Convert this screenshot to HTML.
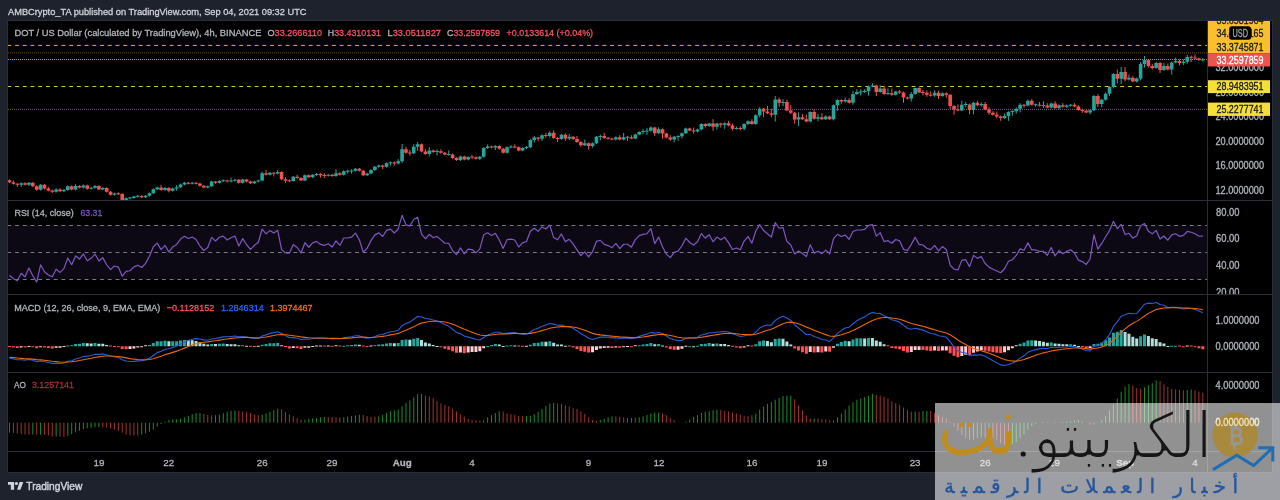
<!DOCTYPE html>
<html><head><meta charset="utf-8"><title>DOT / US Dollar chart</title>
<style>
html,body{margin:0;padding:0}
body{width:1280px;height:500px;overflow:hidden;background:#1e222d;position:relative;font-family:'Liberation Sans', 'DejaVu Sans', sans-serif}
svg text{font-family:'Liberation Sans', 'DejaVu Sans', sans-serif}
</style></head><body>

<svg width="1280" height="500" viewBox="0 0 1280 500" style="position:absolute;left:0;top:0;filter:blur(0.35px)">
<defs><clipPath id="cm"><rect x="8" y="21" width="1199" height="179"/></clipPath><clipPath id="cr"><rect x="8" y="201" width="1199" height="93"/></clipPath><clipPath id="cd"><rect x="8" y="295" width="1199" height="77"/></clipPath><clipPath id="ca"><rect x="8" y="373" width="1199" height="78"/></clipPath><clipPath id="cp"><rect x="1208" y="21" width="64" height="179"/></clipPath><clipPath id="cpr"><rect x="1208" y="201" width="64" height="93"/></clipPath></defs>
<text x="8" y="15.2" font-size="9.8" fill="#d1d4dc" stroke="#d1d4dc" stroke-width="0.3" textLength="298.5" lengthAdjust="spacingAndGlyphs">AMBCrypto_TA published on TradingView.com, Sep 04, 2021 09:32 UTC</text>
<rect x="7.5" y="20.5" width="1265" height="452" fill="#000" stroke="#2a2e39" stroke-width="1"/>
<g clip-path="url(#cm)">
<path d="M8 45.4H1207" stroke="#eab72d" stroke-width="1" stroke-dasharray="3.864 3.864" stroke-dashoffset="0.63"/>
<path d="M8 52.9H1207" stroke="#f9c02d" stroke-opacity="0.45" stroke-width="1" stroke-dasharray="1 1"/>
<path d="M8 59.5H1207" stroke="#f08a3a" stroke-opacity="0.85" stroke-width="1" stroke-dasharray="1 1"/>
<path d="M8 86.5H1207" stroke="#dcc83a" stroke-width="1" stroke-dasharray="3.864 3.864" stroke-dashoffset="0.63"/>
<path d="M8 109.4H1207" stroke="#e8d53a" stroke-opacity="0.5" stroke-width="1" stroke-dasharray="1 1"/>
<path d="M21.16 182.4V186.8M28.93 182V186M40.6 184V190.6M56.14 188.2V192.6M63.92 189V192M67.8 185.4V190.8M75.58 184.2V190.4M83.35 184.6V188.4M91.13 187V189.6M95.01 185.2V188.6M102.79 187.2V190.2M114.45 192.6V195.6M126.11 197.4V200.8M130 196.8V199.4M133.88 195.8V198.8M137.77 195V197.6M145.54 195V198M149.43 192.4V196.6M153.32 188.4V194M157.21 186.6V190M164.98 187.2V190.8M172.75 187.6V191.6M176.64 185.2V190.8M180.53 183.6V188M184.41 182V185.2M192.19 181.9V184.5M207.74 185.4V188.2M211.62 180.8V187M219.4 180.2V183.6M223.28 179.4V182M231.06 177.6V182.4M234.94 178.9V181.5M242.72 178.8V183.6M254.38 180.8V184M258.27 179.6V182.4M262.15 171.5V181.2M269.93 172V175.6M277.7 170V174.4M293.25 176V181.7M304.91 174.4V181.2M312.69 174V178M316.57 173.1V175.7M328.23 173.9V176.5M336.01 169.2V176.8M343.78 170.4V175.6M347.67 169.9V173.6M351.56 169.2V173.6M355.44 168V171.6M367.1 172.8V176M370.99 169.2V174.4M374.88 166V170.8M378.76 164.8V167.6M386.54 162.4V167.6M390.42 161.5V165.6M398.2 159.2V164.4M402.09 144V162.8M413.75 144.2V154M417.63 142V150.8M429.29 147.2V156.4M437.07 149.2V155.6M448.73 150.4V155.7M460.39 155.6V161.2M468.16 156.2V160.4M479.83 156V160M483.71 147.2V157.6M487.6 144.4V148.8M495.37 145.2V150M507.03 146.4V153.6M510.92 145.2V148.3M522.58 147.2V151.2M526.47 146V148.9M530.36 139.2V148M534.24 136V142.4M542.02 134.4V140.8M549.79 131.2V137.6M561.45 134V139.8M569.23 134V140M584.77 139.6V146M592.55 142.4V147.6M596.44 136V144M600.32 134.8V140.4M615.87 136.4V140.4M623.64 132.8V140.4M627.53 135.9V140.8M635.31 133.6V139.2M639.19 131.2V135.2M643.08 128.8V134.4M646.97 128V134.8M650.85 126.4V131.6M658.63 127.2V134M674.18 136V142.4M678.06 135.2V140.8M681.95 132.4V138.4M685.84 127.6V134M697.5 128.8V132.4M701.38 123.2V130.4M709.16 122.8V126.8M716.93 122.8V129.6M724.71 122.4V128.8M736.37 126.4V129.6M744.14 123.2V130.4M748.03 120.4V124.8M755.8 114.4V124.8M759.69 107.2V117.2M775.24 96V121.6M783.01 99.2V106M798.56 112.4V126M810.22 111.2V122.4M818 114V121.2M825.77 115.2V120M833.54 104.4V120.4M837.43 99.2V110.8M845.2 97.6V102.8M852.98 91.2V104.8M856.87 89.2V94.8M860.75 89.2V95.6M864.64 89.2V92.9M868.53 85.6V95.6M872.41 83.2V87.3M880.19 85.2V92.8M887.96 88.4V94.8M895.74 90.8V95.6M911.28 92V101.6M915.17 87.6V94.8M934.61 90.4V96.8M942.38 92.4V96.8M961.81 100.8V111.2M965.7 102V106.8M973.48 102V114.4M981.25 102.4V106.8M1004.57 113.6V118.8M1008.46 111.2V120.8M1012.35 110.3V115.6M1016.23 107.6V113.6M1020.12 103.2V112.4M1027.89 99.6V106.4M1035.67 103.5V106.8M1043.44 101.2V108M1051.22 102.8V108.4M1058.99 104.4V109.6M1066.76 104.4V108M1070.65 103.9V106.5M1090.09 109.4V114.4M1093.97 95.1V111M1101.75 98.9V107.4M1105.63 92.5V100.5M1109.52 86.2V96M1113.41 73.1V88.5M1121.18 67V84M1128.96 74.5V80.5M1136.73 77.5V82.5M1140.62 62V80.5M1144.5 56V67.5M1156.16 62V68.8M1163.94 63V70.8M1171.71 61.7V74.5M1175.6 57.5V63.3M1183.37 59.5V65M1187.26 55V63.5M1202.81 58V61.5" stroke="#26a69a" stroke-width="1" fill="none"/>
<path d="M19.36 183.2h3.6V184.8h-3.6ZM27.13 182.8h3.6V184.8h-3.6ZM38.8 184.8h3.6V189.8h-3.6ZM54.34 189.4h3.6V191.8h-3.6ZM62.12 190h3.6V191.2h-3.6ZM66 186.2h3.6V190h-3.6ZM73.78 186h3.6V189.6h-3.6ZM81.55 185.4h3.6V187.6h-3.6ZM89.33 187.8h3.6V188.8h-3.6ZM93.21 186h3.6V187.8h-3.6ZM100.99 188h3.6V189.4h-3.6ZM112.65 193.4h3.6V194.8h-3.6ZM124.31 198.2h3.6V200h-3.6ZM128.2 197.6h3.6V198.6h-3.6ZM132.08 196.6h3.6V198h-3.6ZM135.97 195.8h3.6V196.8h-3.6ZM143.74 195.8h3.6V197.2h-3.6ZM147.63 193.2h3.6V195.8h-3.6ZM151.52 189.2h3.6V193.2h-3.6ZM155.41 187.4h3.6V189.2h-3.6ZM163.18 188h3.6V190h-3.6ZM170.95 188.4h3.6V190.8h-3.6ZM174.84 187.2h3.6V188.4h-3.6ZM178.73 184.4h3.6V187.2h-3.6ZM182.61 182.8h3.6V184.4h-3.6ZM190.39 182.7h3.6V183.7h-3.6ZM205.94 186.2h3.6V187.4h-3.6ZM209.82 181.6h3.6V186.2h-3.6ZM217.6 181h3.6V182.8h-3.6ZM221.48 180.2h3.6V181.2h-3.6ZM229.26 180.6h3.6V181.6h-3.6ZM233.14 179.7h3.6V180.7h-3.6ZM240.92 179.6h3.6V182.8h-3.6ZM252.58 181.6h3.6V183.2h-3.6ZM256.47 180.4h3.6V181.6h-3.6ZM260.35 173.2h3.6V180.4h-3.6ZM268.13 172.8h3.6V174.8h-3.6ZM275.9 172h3.6V173.6h-3.6ZM291.45 176.8h3.6V180.9h-3.6ZM303.11 175.2h3.6V180.4h-3.6ZM310.88 174.8h3.6V177.2h-3.6ZM314.77 173.9h3.6V174.9h-3.6ZM326.43 174.7h3.6V175.7h-3.6ZM334.21 173.2h3.6V176h-3.6ZM341.98 171.2h3.6V174.8h-3.6ZM345.87 170.7h3.6V171.7h-3.6ZM349.75 170.5h3.6V171.5h-3.6ZM353.64 168.8h3.6V170.8h-3.6ZM365.3 173.6h3.6V175.2h-3.6ZM369.19 170h3.6V173.6h-3.6ZM373.08 166.8h3.6V170h-3.6ZM376.96 165.6h3.6V166.8h-3.6ZM384.74 163.2h3.6V166.8h-3.6ZM388.62 162.3h3.6V163.3h-3.6ZM396.4 161.2h3.6V163.6h-3.6ZM400.29 149.2h3.6V161.2h-3.6ZM411.95 146.8h3.6V153.2h-3.6ZM415.83 144.2h3.6V146.8h-3.6ZM427.49 150.4h3.6V154h-3.6ZM435.27 151.1h3.6V152.1h-3.6ZM446.93 153.9h3.6V154.9h-3.6ZM458.59 156.4h3.6V160h-3.6ZM466.36 157h3.6V159.6h-3.6ZM478.03 156.8h3.6V158.8h-3.6ZM481.91 148h3.6V156.8h-3.6ZM485.8 146.4h3.6V148h-3.6ZM493.57 146h3.6V147.6h-3.6ZM505.23 147.2h3.6V152.8h-3.6ZM509.12 146.5h3.6V147.5h-3.6ZM520.78 148h3.6V150.4h-3.6ZM524.67 147.1h3.6V148.1h-3.6ZM528.56 140h3.6V147.2h-3.6ZM532.44 137.6h3.6V140h-3.6ZM540.22 135.2h3.6V138.8h-3.6ZM547.99 132.8h3.6V136h-3.6ZM559.65 134.8h3.6V139h-3.6ZM567.43 136.8h3.6V138.4h-3.6ZM582.98 143.2h3.6V145.2h-3.6ZM590.75 143.2h3.6V146h-3.6ZM594.64 136.8h3.6V143.2h-3.6ZM598.52 135.9h3.6V136.9h-3.6ZM614.07 137.2h3.6V139.6h-3.6ZM621.85 137.2h3.6V139.6h-3.6ZM625.73 136.7h3.6V137.7h-3.6ZM633.51 134.4h3.6V138.4h-3.6ZM637.39 132h3.6V134.4h-3.6ZM641.28 131.1h3.6V132.1h-3.6ZM645.17 130.5h3.6V131.5h-3.6ZM649.05 127.6h3.6V130.8h-3.6ZM656.83 129.2h3.6V133.2h-3.6ZM672.38 136.8h3.6V139.6h-3.6ZM676.26 136h3.6V137h-3.6ZM680.15 133.2h3.6V136.2h-3.6ZM684.04 128.4h3.6V133.2h-3.6ZM695.7 129.6h3.6V131.6h-3.6ZM699.59 124h3.6V129.6h-3.6ZM707.36 123.6h3.6V126h-3.6ZM715.13 123.6h3.6V126.8h-3.6ZM722.91 123.2h3.6V124.8h-3.6ZM734.57 127.9h3.6V128.9h-3.6ZM742.34 124h3.6V128.8h-3.6ZM746.23 121.2h3.6V124h-3.6ZM754 115.2h3.6V124h-3.6ZM757.89 108.8h3.6V115.2h-3.6ZM773.44 99.6h3.6V114.8h-3.6ZM781.21 101.9h3.6V102.9h-3.6ZM796.76 117.2h3.6V119.6h-3.6ZM808.42 112h3.6V121.6h-3.6ZM816.2 117.2h3.6V118.8h-3.6ZM823.97 116.4h3.6V119.2h-3.6ZM831.74 105.2h3.6V119.2h-3.6ZM835.63 100h3.6V105.2h-3.6ZM843.4 100h3.6V101.6h-3.6ZM851.18 94h3.6V102.8h-3.6ZM855.07 92h3.6V94h-3.6ZM858.95 91.5h3.6V92.5h-3.6ZM862.84 91.1h3.6V92.1h-3.6ZM866.73 86.4h3.6V91.2h-3.6ZM870.61 85.5h3.6V86.5h-3.6ZM878.39 88.4h3.6V92h-3.6ZM886.16 93.1h3.6V94.1h-3.6ZM893.94 91.6h3.6V94.8h-3.6ZM909.48 94h3.6V98.4h-3.6ZM913.37 88h3.6V94h-3.6ZM932.81 92.8h3.6V95.6h-3.6ZM940.58 93.2h3.6V96h-3.6ZM960.01 104.8h3.6V110.4h-3.6ZM963.9 104.1h3.6V105.1h-3.6ZM971.68 102.8h3.6V110h-3.6ZM979.45 104h3.6V105.2h-3.6ZM1002.77 116h3.6V118h-3.6ZM1006.66 112h3.6V116h-3.6ZM1010.55 111.1h3.6V112.1h-3.6ZM1014.43 108.8h3.6V111.2h-3.6ZM1018.32 104.8h3.6V108.8h-3.6ZM1026.09 100.8h3.6V105.6h-3.6ZM1033.87 104.3h3.6V105.3h-3.6ZM1041.64 105.1h3.6V106.1h-3.6ZM1049.42 103.6h3.6V107.6h-3.6ZM1057.19 105.2h3.6V108h-3.6ZM1064.96 105.6h3.6V106.8h-3.6ZM1068.85 104.7h3.6V105.7h-3.6ZM1088.29 110.2h3.6V112.4h-3.6ZM1092.17 95.9h3.6V110.2h-3.6ZM1099.95 99.7h3.6V104.1h-3.6ZM1103.83 93.7h3.6V99.7h-3.6ZM1107.72 87h3.6V93.7h-3.6ZM1111.61 73.9h3.6V87h-3.6ZM1119.38 72h3.6V78.8h-3.6ZM1127.16 77.8h3.6V79.5h-3.6ZM1134.93 78.5h3.6V81.5h-3.6ZM1138.82 64h3.6V78.5h-3.6ZM1142.7 60h3.6V64h-3.6ZM1154.36 63h3.6V68h-3.6ZM1162.14 66h3.6V70h-3.6ZM1169.91 62.5h3.6V69.5h-3.6ZM1173.8 61h3.6V62.5h-3.6ZM1181.57 61.8h3.6V63h-3.6ZM1185.46 57h3.6V61.8h-3.6ZM1201.01 59.4h3.6V60.4h-3.6Z" fill="#26a69a"/>
<path d="M9.5 179.4V183M13.39 180.6V184.6M17.27 183V186.8M25.05 182.2V185.6M32.82 182V187M36.71 185.4V190.6M44.48 184V189.4M48.37 187V191.4M52.26 189.8V193M60.03 188.2V192M71.69 185.4V190.4M79.47 185.2V188.4M87.24 184.6V189.6M98.9 185.2V190.2M106.67 187.2V192.6M110.56 191V195.6M118.34 192.4V195M122.22 193.2V200.8M141.66 195.2V198M161.09 184.8V190.8M168.87 187.2V192.4M188.3 181.9V184.5M196.07 181.9V184.5M199.96 182.8V186.6M203.85 185V188.2M215.51 181V183.8M227.17 179.6V182.4M238.83 179V183.6M246.61 178.8V182.4M250.49 180.8V184M266.04 170V175.6M273.81 171.9V176.4M281.59 171.2V180M285.48 177.2V182.8M289.36 179.55V182.15M297.14 174.8V178.8M301.02 177.2V181.2M308.8 174.4V178M320.46 173.2V177.6M324.35 173.2V178M332.12 174V176.8M339.89 172V175.6M359.33 168V171.6M363.22 170V176M382.65 164.8V169.2M394.31 161.2V165.6M405.97 146.8V153.6M409.86 150V155.6M421.52 143.4V152.4M425.41 149.2V154.8M433.18 149.6V152.8M440.96 149.2V153.6M444.84 152V155.2M452.62 153.6V158.8M456.5 157.2V160.8M464.28 155.6V160.4M472.05 155.2V159.2M475.94 156.4V159.6M491.49 145.6V148.4M499.26 145.2V149.6M503.15 148V153.6M514.81 144.4V148.3M518.7 146.4V151.2M538.13 136.8V141.2M545.9 132.8V137.6M553.68 130.4V138.8M557.57 137.2V142M565.34 133.2V140.8M573.11 136V139.8M577 136V142.8M580.89 141.2V146.8M588.66 142.4V149.6M604.21 132.8V138.8M608.1 137V139.6M611.98 137.8V140.4M619.76 135.2V140.4M631.42 135.2V139.2M654.74 126.8V136M662.51 128.4V138.8M666.4 132.8V138.4M670.29 135.2V140.8M689.72 127.6V131.2M693.61 127.6V133.6M705.27 123.2V127.6M713.05 119.2V130.8M720.82 122.8V127.6M728.59 120.8V126.4M732.48 123.6V130.4M740.25 126.4V130.4M751.92 119.2V124.8M763.58 108V117.2M767.46 106V114M771.35 108.8V117.2M779.12 97.6V106.8M786.9 99.6V111.2M790.79 105.2V114M794.67 112V123.6M802.45 114V120M806.33 114.4V122.4M814.11 109.6V119.6M821.88 113.2V120M829.66 115.6V120M841.32 99.2V103.6M849.09 98V103.6M876.3 84.8V96M884.07 86V94.8M891.85 88.4V95.6M899.62 90V94M903.51 91.6V102.8M907.4 96.7V99.3M919.06 87.2V93.2M922.94 90V95.6M926.83 90.4V96.8M930.72 91.2V96.5M938.49 90.8V98.8M946.27 92.4V97.6M950.15 94V108.8M954.04 105.2V114.8M957.93 104.4V111.3M969.59 103.6V114.4M977.36 100.8V106M985.14 102V110.4M989.02 107.2V114.8M992.91 111.2V115.6M996.8 111.6V118.4M1000.68 115.6V120.8M1024.01 104V107.6M1031.78 99.2V105.6M1039.55 102V106.5M1047.33 103.2V108.4M1055.1 101.2V108.8M1062.88 103.2V107.6M1074.54 103.2V107.2M1078.42 105.2V110.8M1082.31 108.8V112.8M1086.2 110V113.2M1097.86 94.2V106.9M1117.29 69.5V83.5M1125.07 67V81.5M1132.84 76V82.3M1148.39 59.2V67.5M1152.28 64V69.5M1160.05 62.2V73M1167.83 63.5V70.3M1179.49 59.5V65.5M1191.15 55.5V62M1195.03 54.5V59.3M1198.92 57.7V60.8" stroke="#ef5350" stroke-width="1" fill="none"/>
<path d="M7.7 180.2h3.6V182.2h-3.6ZM11.59 182.2h3.6V183.8h-3.6ZM15.47 183.8h3.6V184.8h-3.6ZM23.25 183.2h3.6V184.8h-3.6ZM31.02 182.8h3.6V186.2h-3.6ZM34.91 186.2h3.6V189.8h-3.6ZM42.68 184.8h3.6V188.6h-3.6ZM46.57 188.6h3.6V190.6h-3.6ZM50.46 190.6h3.6V191.8h-3.6ZM58.23 189.4h3.6V191.2h-3.6ZM69.89 186.2h3.6V189.6h-3.6ZM77.67 186h3.6V187.6h-3.6ZM85.44 185.4h3.6V188.8h-3.6ZM97.1 186h3.6V189.4h-3.6ZM104.87 188h3.6V191.8h-3.6ZM108.76 191.8h3.6V194.8h-3.6ZM116.54 193.2h3.6V194.2h-3.6ZM120.42 194h3.6V200h-3.6ZM139.86 196h3.6V197.2h-3.6ZM159.29 187.4h3.6V190h-3.6ZM167.07 188h3.6V190.8h-3.6ZM186.5 182.7h3.6V183.7h-3.6ZM194.27 182.7h3.6V183.7h-3.6ZM198.16 183.6h3.6V185.8h-3.6ZM202.05 185.8h3.6V187.4h-3.6ZM213.71 181.6h3.6V182.8h-3.6ZM225.37 180.4h3.6V181.6h-3.6ZM237.03 179.8h3.6V182.8h-3.6ZM244.81 179.6h3.6V181.6h-3.6ZM248.69 181.6h3.6V183.2h-3.6ZM264.24 173.2h3.6V174.8h-3.6ZM272.01 172.7h3.6V173.7h-3.6ZM279.79 172h3.6V179.2h-3.6ZM283.68 179.2h3.6V180.8h-3.6ZM287.56 180.35h3.6V181.35h-3.6ZM295.34 176.8h3.6V178h-3.6ZM299.22 178h3.6V180.4h-3.6ZM307 175.2h3.6V177.2h-3.6ZM318.66 174h3.6V175.2h-3.6ZM322.55 174.9h3.6V175.9h-3.6ZM330.32 174.8h3.6V176h-3.6ZM338.09 173.2h3.6V174.8h-3.6ZM357.53 168.8h3.6V170.8h-3.6ZM361.42 170.8h3.6V175.2h-3.6ZM380.85 165.6h3.6V166.8h-3.6ZM392.51 162.4h3.6V163.6h-3.6ZM404.17 149.2h3.6V152.8h-3.6ZM408.06 152.5h3.6V153.5h-3.6ZM419.72 144.2h3.6V151.6h-3.6ZM423.61 151.6h3.6V154h-3.6ZM431.38 150.4h3.6V152h-3.6ZM439.16 151.2h3.6V152.8h-3.6ZM443.04 152.8h3.6V154.4h-3.6ZM450.82 154.4h3.6V158h-3.6ZM454.7 158h3.6V160h-3.6ZM462.48 156.4h3.6V159.6h-3.6ZM470.25 156.6h3.6V157.6h-3.6ZM474.14 157.2h3.6V158.8h-3.6ZM489.69 146.4h3.6V147.6h-3.6ZM497.46 146h3.6V148.8h-3.6ZM501.35 148.8h3.6V152.8h-3.6ZM513.01 146.5h3.6V147.5h-3.6ZM516.9 147.2h3.6V150.4h-3.6ZM536.33 137.6h3.6V138.8h-3.6ZM544.11 135.1h3.6V136.1h-3.6ZM551.88 132.8h3.6V138h-3.6ZM555.77 138h3.6V139h-3.6ZM563.54 134.8h3.6V138.4h-3.6ZM571.31 136.8h3.6V139h-3.6ZM575.2 139h3.6V142h-3.6ZM579.09 142h3.6V145.2h-3.6ZM586.86 143.2h3.6V146h-3.6ZM602.41 136h3.6V138h-3.6ZM606.3 137.8h3.6V138.8h-3.6ZM610.18 138.6h3.6V139.6h-3.6ZM617.96 137.2h3.6V139.6h-3.6ZM629.62 137.2h3.6V138.4h-3.6ZM652.94 127.6h3.6V133.2h-3.6ZM660.72 129.2h3.6V133.6h-3.6ZM664.6 133.6h3.6V137.6h-3.6ZM668.49 137.6h3.6V139.6h-3.6ZM687.92 128.4h3.6V130.4h-3.6ZM691.81 130.4h3.6V131.6h-3.6ZM703.47 124h3.6V126h-3.6ZM711.25 123.6h3.6V126.8h-3.6ZM719.02 123.6h3.6V124.8h-3.6ZM726.79 123.2h3.6V125.6h-3.6ZM730.68 125.6h3.6V128.8h-3.6ZM738.46 127.9h3.6V128.9h-3.6ZM750.12 121.2h3.6V124h-3.6ZM761.78 108.8h3.6V111.6h-3.6ZM765.66 111.6h3.6V113.2h-3.6ZM769.55 113.2h3.6V114.8h-3.6ZM777.33 99.6h3.6V102.8h-3.6ZM785.1 102h3.6V110.4h-3.6ZM788.99 110.4h3.6V112.8h-3.6ZM792.87 112.8h3.6V119.6h-3.6ZM800.65 117.2h3.6V119.2h-3.6ZM804.53 119.2h3.6V121.6h-3.6ZM812.31 112h3.6V118.8h-3.6ZM820.08 117.2h3.6V119.2h-3.6ZM827.86 116.4h3.6V119.2h-3.6ZM839.52 100h3.6V101.6h-3.6ZM847.29 100h3.6V102.8h-3.6ZM874.5 85.6h3.6V92h-3.6ZM882.27 88.4h3.6V94h-3.6ZM890.05 93.2h3.6V94.8h-3.6ZM897.82 91.5h3.6V92.5h-3.6ZM901.71 92.4h3.6V97.6h-3.6ZM905.6 97.5h3.6V98.5h-3.6ZM917.26 88h3.6V92.4h-3.6ZM921.14 92.1h3.6V93.1h-3.6ZM925.03 92.8h3.6V94.8h-3.6ZM928.92 94.7h3.6V95.7h-3.6ZM936.69 92.8h3.6V96h-3.6ZM944.47 93.2h3.6V94.8h-3.6ZM948.35 94.8h3.6V106h-3.6ZM952.24 106h3.6V109.6h-3.6ZM956.13 109.5h3.6V110.5h-3.6ZM967.79 104.4h3.6V110h-3.6ZM975.56 102.8h3.6V105.2h-3.6ZM983.34 104h3.6V109.6h-3.6ZM987.22 109.6h3.6V112.8h-3.6ZM991.11 112.8h3.6V114.8h-3.6ZM995 114.8h3.6V116.4h-3.6ZM998.88 116.4h3.6V118h-3.6ZM1022.21 104.7h3.6V105.7h-3.6ZM1029.98 100.8h3.6V104.8h-3.6ZM1037.75 104.7h3.6V105.7h-3.6ZM1045.53 105.6h3.6V107.6h-3.6ZM1053.3 103.6h3.6V108h-3.6ZM1061.08 105.2h3.6V106.8h-3.6ZM1072.74 104.8h3.6V106.4h-3.6ZM1076.62 106.4h3.6V110h-3.6ZM1080.51 109.9h3.6V110.9h-3.6ZM1084.4 110.8h3.6V112.4h-3.6ZM1096.06 95.9h3.6V104.1h-3.6ZM1115.49 73.9h3.6V78.8h-3.6ZM1123.27 72h3.6V79.5h-3.6ZM1131.04 77.8h3.6V81.5h-3.6ZM1146.59 60h3.6V66h-3.6ZM1150.48 66h3.6V68h-3.6ZM1158.25 63h3.6V70h-3.6ZM1166.03 66h3.6V69.5h-3.6ZM1177.69 61h3.6V63h-3.6ZM1189.35 56.75h3.6V57.75h-3.6ZM1193.23 57.5h3.6V58.5h-3.6ZM1197.12 58.5h3.6V60h-3.6Z" fill="#ef5350"/>
</g>
<text x="14.4" y="36.4" font-size="9.8" fill="#b2b5be" stroke="#b2b5be" stroke-width="0.3" textLength="247" lengthAdjust="spacingAndGlyphs">DOT / US Dollar (calculated by TradingView), 4h, BINANCE</text>
<text x="267.5" y="36.4" font-size="9.8" fill="#b2b5be" stroke="#b2b5be" stroke-width="0.3" textLength="54.5" lengthAdjust="spacingAndGlyphs"><tspan>O</tspan><tspan fill="#f7525f" stroke="#f7525f">33.2666110</tspan></text>
<text x="327.8" y="36.4" font-size="9.8" fill="#b2b5be" stroke="#b2b5be" stroke-width="0.3" textLength="53.2" lengthAdjust="spacingAndGlyphs"><tspan>H</tspan><tspan fill="#f7525f" stroke="#f7525f">33.4310131</tspan></text>
<text x="387.5" y="36.4" font-size="9.8" fill="#b2b5be" stroke="#b2b5be" stroke-width="0.3" textLength="53.5" lengthAdjust="spacingAndGlyphs"><tspan>L</tspan><tspan fill="#f7525f" stroke="#f7525f">33.0511827</tspan></text>
<text x="447" y="36.4" font-size="9.8" fill="#b2b5be" stroke="#b2b5be" stroke-width="0.3" textLength="53" lengthAdjust="spacingAndGlyphs"><tspan>C</tspan><tspan fill="#f7525f" stroke="#f7525f">33.2597859</tspan></text>
<text x="506.6" y="36.4" font-size="9.8" fill="#f7525f" stroke="#f7525f" stroke-width="0.3" textLength="86.5" lengthAdjust="spacingAndGlyphs">+0.0133614 (+0.04%)</text>
<g clip-path="url(#cr)">
<rect x="8" y="225.45" width="1199" height="53.7" fill="#7e57c2" fill-opacity="0.1"/>
<path d="M8 225.5H1207" stroke="#787b86" stroke-width="1" stroke-dasharray="3.864 3.864" stroke-dashoffset="0.63"/>
<path d="M8 252.5H1207" stroke="#787b86" stroke-width="1" stroke-dasharray="3.864 3.864" stroke-dashoffset="0.63"/>
<path d="M8 279.5H1207" stroke="#787b86" stroke-width="1" stroke-dasharray="3.864 3.864" stroke-dashoffset="0.63"/>
<path d="M9.5 275.29 L13.39 278.74 L17.27 280.78 L21.16 273.19 L25.05 276.83 L28.93 268.04 L32.82 275.72 L36.71 282.07 L40.6 264.76 L44.48 271.73 L48.37 274.95 L52.26 276.81 L56.14 269.25 L60.03 272.38 L63.92 268.64 L67.8 257.98 L71.69 264.71 L75.58 255.88 L79.47 259.08 L83.35 253.94 L87.24 260.74 L91.13 258.33 L95.01 254.08 L98.9 260.99 L102.79 257.59 L106.67 264.75 L110.56 269.65 L114.45 266.01 L118.34 267.05 L122.22 276.14 L126.11 271.31 L130 270.76 L133.88 266.88 L137.77 265.2 L141.66 267.5 L145.54 263.34 L149.43 256.17 L153.32 246.8 L157.21 243.09 L161.09 249.62 L164.98 245.36 L168.87 252.07 L172.75 246.91 L176.64 244.44 L180.53 239.04 L184.41 236.17 L188.3 238.49 L192.19 236.94 L196.07 239.44 L199.96 246.04 L203.85 250.5 L207.74 247.45 L211.62 237.37 L215.51 240.94 L219.4 237.28 L223.28 236.08 L227.17 240.02 L231.06 237.79 L234.94 236.01 L238.83 246.04 L242.72 238.65 L246.61 244.75 L250.49 249.31 L254.38 245.35 L258.27 242.5 L262.15 229.04 L266.04 233.85 L269.93 230.59 L273.81 233.08 L277.7 230.36 L281.59 249.59 L285.48 253.02 L289.36 253.24 L293.25 244.59 L297.14 247.48 L301.02 252.99 L304.91 242.7 L308.8 247.24 L312.69 242.84 L316.57 241.4 L320.46 244.41 L324.35 245.44 L328.23 243.72 L332.12 247.06 L336.01 240.88 L339.89 245.42 L343.78 238.02 L347.67 238.02 L351.56 237.19 L355.44 233.16 L359.33 239.8 L363.22 252.09 L367.1 248.28 L370.99 240.62 L374.88 234.85 L378.76 232.85 L382.65 236.45 L386.54 230.37 L390.42 229.13 L394.31 232.98 L398.2 228.96 L402.09 215.3 L405.97 224.83 L409.86 225.86 L413.75 219.46 L417.63 217.25 L421.52 234.09 L425.41 238.74 L429.29 234.41 L433.18 237.57 L437.07 236.54 L440.96 239.91 L444.84 243.24 L448.73 243.24 L452.62 250.76 L456.5 254.58 L460.39 247.82 L464.28 253.93 L468.16 249.15 L472.05 249.55 L475.94 252.84 L479.83 248.81 L483.71 234.82 L487.6 232.77 L491.49 235.56 L495.37 233.33 L499.26 239.96 L503.15 248.38 L507.03 239.68 L510.92 239.11 L514.81 240 L518.7 246.97 L522.58 242.88 L526.47 241.54 L530.36 231.19 L534.24 228.35 L538.13 231.28 L542.02 226.93 L545.9 228.98 L549.79 225.17 L553.68 237.6 L557.57 239.78 L561.45 233.92 L565.34 241.63 L569.23 239.29 L573.11 243.92 L577 249.82 L580.89 255.55 L584.77 251.85 L588.66 256.81 L592.55 251.56 L596.44 241.42 L600.32 240.29 L604.21 244.36 L608.1 245.59 L611.98 247.69 L615.87 243.4 L619.76 248.64 L623.64 244.26 L627.53 244.26 L631.42 247.15 L635.31 239.63 L639.19 235.67 L643.08 234.38 L646.97 233.72 L650.85 228.66 L654.74 243.57 L658.63 237.02 L662.51 246.68 L666.4 254.17 L670.29 257.6 L674.18 252.29 L678.06 251.17 L681.95 245.74 L685.84 238.21 L689.72 242.5 L693.61 245.04 L697.5 241.69 L701.38 233.54 L705.27 238.05 L709.16 234.69 L713.05 241.78 L716.93 237.1 L720.82 239.76 L724.71 237.34 L728.59 242.83 L732.48 249.53 L736.37 248.05 L740.25 249.78 L744.14 241.04 L748.03 236.67 L751.92 243.1 L755.8 231.03 L759.69 224.6 L763.58 230.48 L767.46 233.75 L771.35 237.01 L775.24 222.48 L779.12 228.27 L783.01 227.59 L786.9 241.54 L790.79 245.01 L794.67 253.93 L798.56 250.94 L802.45 253.51 L806.33 256.57 L810.22 244.68 L814.11 253.11 L818 251.22 L821.88 253.68 L825.77 250.15 L829.66 253.79 L833.54 238.65 L837.43 234.31 L841.32 236.54 L845.2 235.13 L849.09 239.27 L852.98 231.56 L856.87 230 L860.75 230 L864.64 229.31 L868.53 225.31 L872.41 224.67 L876.3 236.14 L880.19 232.66 L884.07 241.57 L887.96 240.69 L891.85 243.24 L895.74 239.45 L899.62 240.84 L903.51 249.31 L907.4 250.54 L911.28 244.38 L915.17 237.19 L919.06 244.39 L922.94 245.03 L926.83 248.28 L930.72 249.6 L934.61 245.4 L938.49 250.9 L942.38 246.6 L946.27 249.42 L950.15 265.23 L954.04 269.16 L957.93 270.01 L961.81 260.35 L965.7 259.7 L969.59 266.61 L973.48 255.36 L977.36 258.39 L981.25 256.57 L985.14 263.54 L989.02 267.11 L992.91 269.27 L996.8 270.99 L1000.68 272.71 L1004.57 268.71 L1008.46 261.21 L1012.35 259.77 L1016.23 255.47 L1020.12 248.87 L1024.01 250.27 L1027.89 242.88 L1031.78 249.96 L1035.67 249.96 L1039.55 251.41 L1043.44 251.41 L1047.33 255.32 L1051.22 247.6 L1055.1 255.88 L1058.99 250.7 L1062.88 253.67 L1066.76 251.36 L1070.65 249.8 L1074.54 253.17 L1078.42 260.12 L1082.31 261.57 L1086.2 264.47 L1090.09 258.99 L1093.97 234.94 L1097.86 249.09 L1101.75 243.45 L1105.63 236.76 L1109.52 230.51 L1113.41 221.29 L1117.29 228.72 L1121.18 224.29 L1125.07 234.54 L1128.96 233.28 L1132.84 238.16 L1136.73 235.66 L1140.62 225.71 L1144.5 223.47 L1148.39 231.34 L1152.28 233.86 L1156.16 230.38 L1160.05 239.04 L1163.94 236 L1167.83 240.22 L1171.71 234.81 L1175.6 233.71 L1179.49 236.36 L1183.37 235.36 L1187.26 231.46 L1191.15 232.22 L1195.03 233.81 L1198.92 236.26 L1202.81 236.05" stroke="#7e57c2" stroke-width="1.2" fill="none" stroke-linejoin="round"/>
</g>
<text x="14.4" y="216" font-size="9.8" fill="#b2b5be" stroke="#b2b5be" stroke-width="0.3" textLength="59.4" lengthAdjust="spacingAndGlyphs">RSI (14, close)</text>
<text x="80.5" y="216" font-size="9.8" fill="#7e57c2" stroke="#7e57c2" stroke-width="0.3" textLength="21.8" lengthAdjust="spacingAndGlyphs">63.31</text>
<g clip-path="url(#cd)">
<path d="M66.3 345.39h3V346.39h-3ZM70.19 345.2h3V346.2h-3ZM74.08 344.02h3V346.2h-3ZM77.97 343.69h3V346.2h-3ZM81.85 342.88h3V346.2h-3ZM93.51 342.99h3V346.2h-3ZM147.93 345.01h3V346.2h-3ZM151.82 343.03h3V346.2h-3ZM155.71 341.36h3V346.2h-3ZM159.59 341.16h3V346.2h-3ZM163.48 340.67h3V346.2h-3ZM171.25 341.29h3V346.2h-3ZM175.14 341.13h3V346.2h-3ZM179.03 340.5h3V346.2h-3ZM182.91 339.94h3V346.2h-3ZM210.12 343.92h3V346.2h-3ZM217.9 343.74h3V346.2h-3ZM221.78 343.6h3V346.2h-3ZM241.22 345.22h3V346.22h-3ZM260.65 344.77h3V346.2h-3ZM264.54 344.1h3V346.2h-3ZM268.43 343.34h3V346.2h-3ZM272.31 343.31h3V346.2h-3ZM276.2 343.11h3V346.2h-3ZM342.28 345.72h3V346.72h-3ZM346.17 345.31h3V346.31h-3ZM350.06 345.07h3V346.2h-3ZM353.94 344.51h3V346.2h-3ZM373.38 345.36h3V346.36h-3ZM377.26 344.44h3V346.2h-3ZM381.15 344.37h3V346.2h-3ZM385.04 343.54h3V346.2h-3ZM388.92 343.03h3V346.2h-3ZM396.7 343.1h3V346.2h-3ZM400.59 340h3V346.2h-3ZM404.47 339.49h3V346.2h-3ZM412.25 338.72h3V346.2h-3ZM416.13 337.92h3V346.2h-3ZM486.1 345.92h3V346.92h-3ZM489.99 344.89h3V346.2h-3ZM493.87 343.99h3V346.2h-3ZM505.53 345.52h3V346.52h-3ZM509.42 345.3h3V346.3h-3ZM528.86 344.76h3V346.2h-3ZM532.74 343.12h3V346.2h-3ZM536.63 342.71h3V346.2h-3ZM540.52 341.79h3V346.2h-3ZM548.29 341.33h3V346.2h-3ZM637.69 345.19h3V346.2h-3ZM641.58 344.38h3V346.2h-3ZM645.47 343.94h3V346.2h-3ZM649.35 343.01h3V346.2h-3ZM657.13 344.08h3V346.2h-3ZM688.22 346.15h3V347.15h-3ZM696 345.7h3V346.7h-3ZM699.88 344h3V346.2h-3ZM703.77 343.68h3V346.2h-3ZM707.66 343.04h3V346.2h-3ZM715.43 343.59h3V346.2h-3ZM754.3 344.22h3V346.2h-3ZM758.19 341.31h3V346.2h-3ZM762.08 340.61h3V346.2h-3ZM773.74 339.11h3V346.2h-3ZM777.62 338.61h3V346.2h-3ZM835.93 343.84h3V346.2h-3ZM839.82 342.07h3V346.2h-3ZM843.7 340.84h3V346.2h-3ZM851.48 339.48h3V346.2h-3ZM855.37 338.34h3V346.2h-3ZM859.25 338.2h3V346.2h-3ZM867.03 337.98h3V346.2h-3ZM1018.62 343.82h3V346.2h-3ZM1022.51 342.46h3V346.2h-3ZM1026.39 340.38h3V346.2h-3ZM1030.28 340.36h3V346.2h-3ZM1049.72 342.42h3V346.2h-3ZM1069.15 344.28h3V346.2h-3ZM1092.47 344.01h3V346.2h-3ZM1096.36 343.79h3V346.2h-3ZM1100.25 342.57h3V346.2h-3ZM1104.13 340.37h3V346.2h-3ZM1108.02 337.49h3V346.2h-3ZM1111.91 332.63h3V346.2h-3ZM1115.79 331.67h3V346.2h-3ZM1119.68 330.08h3V346.2h-3ZM1139.12 336.19h3V346.2h-3ZM1143 334.5h3V346.2h-3ZM1170.21 345.84h3V346.84h-3ZM1174.1 345.76h3V346.76h-3Z" fill="#26a69a"/>
<path d="M85.74 343.35h3V346.2h-3ZM89.63 343.41h3V346.2h-3ZM97.4 343.71h3V346.2h-3ZM101.29 343.82h3V346.2h-3ZM105.17 344.95h3V346.2h-3ZM167.37 341.33h3V346.2h-3ZM186.8 340.11h3V346.2h-3ZM190.69 340.32h3V346.2h-3ZM194.57 340.99h3V346.2h-3ZM198.46 342.29h3V346.2h-3ZM202.35 343.78h3V346.2h-3ZM206.24 344.55h3V346.2h-3ZM214.01 344.01h3V346.2h-3ZM225.67 344.03h3V346.2h-3ZM229.56 344.21h3V346.2h-3ZM233.44 344.28h3V346.2h-3ZM237.33 345.32h3V346.32h-3ZM245.11 345.83h3V346.83h-3ZM280.09 345.2h3V346.2h-3ZM357.83 344.87h3V346.2h-3ZM392.81 343.31h3V346.2h-3ZM408.36 339.77h3V346.2h-3ZM420.02 340.06h3V346.2h-3ZM423.91 342.58h3V346.2h-3ZM427.79 343.59h3V346.2h-3ZM431.68 345.02h3V346.2h-3ZM435.57 345.99h3V346.99h-3ZM497.76 344.4h3V346.2h-3ZM501.65 345.94h3V346.94h-3ZM513.31 345.43h3V346.43h-3ZM544.4 341.8h3V346.2h-3ZM552.18 342.86h3V346.2h-3ZM556.07 344.43h3V346.2h-3ZM559.95 344.55h3V346.2h-3ZM563.84 345.86h3V346.86h-3ZM653.24 344.2h3V346.2h-3ZM661.01 345.4h3V346.4h-3ZM692.11 346.16h3V347.16h-3ZM711.55 343.77h3V346.2h-3ZM719.32 344.04h3V346.2h-3ZM723.21 344.11h3V346.2h-3ZM727.09 345.04h3V346.2h-3ZM765.96 341.04h3V346.2h-3ZM769.85 342.15h3V346.2h-3ZM781.51 338.66h3V346.2h-3ZM785.4 341.57h3V346.2h-3ZM789.29 344.5h3V346.2h-3ZM847.59 341.23h3V346.2h-3ZM863.14 338.49h3V346.2h-3ZM870.91 338.09h3V346.2h-3ZM874.8 340.55h3V346.2h-3ZM878.69 341.66h3V346.2h-3ZM882.57 344.37h3V346.2h-3ZM1034.17 340.56h3V346.2h-3ZM1038.05 341.11h3V346.2h-3ZM1041.94 341.65h3V346.2h-3ZM1045.83 342.71h3V346.2h-3ZM1053.6 343.58h3V346.2h-3ZM1057.49 343.66h3V346.2h-3ZM1061.38 344.23h3V346.2h-3ZM1065.26 344.35h3V346.2h-3ZM1073.04 344.75h3V346.2h-3ZM1076.92 346.07h3V347.07h-3ZM1123.57 332.09h3V346.2h-3ZM1127.46 333.78h3V346.2h-3ZM1131.34 336.68h3V346.2h-3ZM1135.23 338.4h3V346.2h-3ZM1146.89 335.95h3V346.2h-3ZM1150.78 338.23h3V346.2h-3ZM1154.66 339.05h3V346.2h-3ZM1158.55 342.16h3V346.2h-3ZM1162.44 343.59h3V346.2h-3ZM1166.33 345.91h3V346.91h-3Z" fill="#b2dfdb"/>
<path d="M19.66 346.2h3V347.58h-3ZM27.43 345.88h3V346.88h-3ZM39.1 346.2h3V347.25h-3ZM54.64 346.2h3V347.77h-3ZM58.53 346.2h3V347.63h-3ZM62.42 346h3V347h-3ZM128.5 346.2h3V349.1h-3ZM132.38 346.2h3V348.38h-3ZM136.27 346.2h3V347.54h-3ZM140.16 346.14h3V347.14h-3ZM144.04 345.34h3V346.34h-3ZM256.77 345.78h3V346.78h-3ZM291.75 346.2h3V348.05h-3ZM303.41 346.2h3V347.87h-3ZM307.3 346.2h3V347.77h-3ZM311.19 346.05h3V347.05h-3ZM315.07 345.41h3V346.41h-3ZM318.96 345.4h3V346.4h-3ZM326.73 345.51h3V346.51h-3ZM334.51 345.35h3V346.35h-3ZM369.49 345.51h3V346.51h-3ZM458.89 346.2h3V352.55h-3ZM466.66 346.2h3V352.58h-3ZM470.55 346.2h3V352.1h-3ZM474.44 346.2h3V352.04h-3ZM478.33 346.2h3V351.28h-3ZM482.21 346.2h3V348.26h-3ZM524.97 345.64h3V346.64h-3ZM591.05 346.2h3V352.24h-3ZM594.94 346.2h3V350.08h-3ZM598.82 346.2h3V348.42h-3ZM602.71 346.2h3V347.91h-3ZM606.6 346.2h3V347.76h-3ZM614.37 346.2h3V347.42h-3ZM622.14 346.2h3V347.33h-3ZM626.03 346.08h3V347.08h-3ZM633.81 345.35h3V346.35h-3ZM676.56 346.2h3V349.65h-3ZM680.45 346.2h3V348.72h-3ZM684.34 345.78h3V346.78h-3ZM742.64 346.2h3V347.58h-3ZM746.53 345.36h3V346.36h-3ZM808.72 346.2h3V351.98h-3ZM816.5 346.2h3V352.28h-3ZM824.27 346.2h3V351.62h-3ZM832.04 346.2h3V347.71h-3ZM909.78 346.2h3V351.98h-3ZM913.67 346.2h3V350h-3ZM917.56 346.2h3V349.94h-3ZM933.11 346.2h3V350.55h-3ZM940.88 346.2h3V350.42h-3ZM944.77 346.2h3V350.4h-3ZM960.31 346.2h3V356.05h-3ZM964.2 346.2h3V354.72h-3ZM971.98 346.2h3V352.72h-3ZM975.86 346.2h3V351.6h-3ZM979.75 346.2h3V350.25h-3ZM1003.07 346.2h3V352.22h-3ZM1006.96 346.2h3V350.19h-3ZM1010.85 346.2h3V348.36h-3ZM1014.73 345.32h3V346.32h-3ZM1088.59 346.2h3V348.05h-3ZM1185.76 345.51h3V346.51h-3Z" fill="#ffcdd2"/>
<path d="M8 346.05h3V347.05h-3ZM11.89 346.2h3V347.55h-3ZM15.77 346.2h3V347.96h-3ZM23.55 346.2h3V347.6h-3ZM31.32 346.2h3V347.2h-3ZM35.21 346.2h3V348.2h-3ZM42.98 346.2h3V347.5h-3ZM46.87 346.2h3V348h-3ZM50.76 346.2h3V348.41h-3ZM109.06 345.44h3V346.44h-3ZM112.95 345.9h3V346.9h-3ZM116.84 346.2h3V347.22h-3ZM120.72 346.2h3V348.89h-3ZM124.61 346.2h3V349.22h-3ZM248.99 345.75h3V346.75h-3ZM252.88 345.94h3V346.94h-3ZM283.98 346.1h3V347.1h-3ZM287.86 346.2h3V348.38h-3ZM295.64 346.2h3V348.17h-3ZM299.52 346.2h3V348.89h-3ZM322.85 345.57h3V346.57h-3ZM330.62 345.85h3V346.85h-3ZM338.39 345.53h3V346.53h-3ZM361.72 345.44h3V346.44h-3ZM365.6 346.06h3V347.06h-3ZM439.46 346.2h3V347.27h-3ZM443.34 346.2h3V348.67h-3ZM447.23 346.2h3V349.64h-3ZM451.12 346.2h3V351.26h-3ZM455 346.2h3V352.74h-3ZM462.78 346.2h3V353.13h-3ZM517.2 345.53h3V346.53h-3ZM521.08 345.67h3V346.67h-3ZM567.73 345.45h3V346.45h-3ZM571.61 346.2h3V347.58h-3ZM575.5 346.2h3V349.2h-3ZM579.39 346.2h3V351.09h-3ZM583.27 346.2h3V351.64h-3ZM587.16 346.2h3V352.6h-3ZM610.48 346.2h3V347.95h-3ZM618.26 346.2h3V347.76h-3ZM629.92 346.2h3V347.28h-3ZM664.9 346.2h3V347.47h-3ZM668.79 346.2h3V349.34h-3ZM672.68 346.2h3V349.69h-3ZM730.98 345.66h3V346.66h-3ZM734.87 346.2h3V347.55h-3ZM738.75 346.2h3V348.37h-3ZM750.42 345.45h3V346.45h-3ZM793.17 346.2h3V348.48h-3ZM797.06 346.2h3V350.42h-3ZM800.95 346.2h3V352.16h-3ZM804.83 346.2h3V353.78h-3ZM812.61 346.2h3V352.54h-3ZM820.38 346.2h3V352.47h-3ZM828.16 346.2h3V351.66h-3ZM886.46 345.2h3V346.2h-3ZM890.35 346.2h3V348.05h-3ZM894.24 346.2h3V348.5h-3ZM898.12 346.2h3V349.13h-3ZM902.01 346.2h3V351.03h-3ZM905.9 346.2h3V352.41h-3ZM921.44 346.2h3V350.01h-3ZM925.33 346.2h3V350.57h-3ZM929.22 346.2h3V351.09h-3ZM936.99 346.2h3V351.01h-3ZM948.65 346.2h3V353.31h-3ZM952.54 346.2h3V355.84h-3ZM956.43 346.2h3V357.22h-3ZM968.09 346.2h3V354.98h-3ZM983.64 346.2h3V350.67h-3ZM987.52 346.2h3V351.51h-3ZM991.41 346.2h3V352.24h-3ZM995.3 346.2h3V352.73h-3ZM999.18 346.2h3V353.04h-3ZM1080.81 346.11h3V347.11h-3ZM1084.7 346.2h3V348.13h-3ZM1177.99 345.62h3V346.62h-3ZM1181.87 346.17h3V347.17h-3ZM1189.65 345.57h3V346.57h-3ZM1193.53 346.2h3V347.2h-3ZM1197.42 346.2h3V348.29h-3ZM1201.31 346.2h3V349.15h-3Z" fill="#ff5252"/>
<path d="M9.5 358.09 L13.39 358.93 L17.27 359.79 L21.16 359.76 L25.05 360.12 L28.93 359.57 L32.82 360.14 L36.71 361.64 L40.6 360.95 L44.48 361.52 L48.37 362.48 L52.26 363.44 L56.14 363.19 L60.03 363.41 L63.92 362.98 L67.8 361.17 L71.69 360.73 L75.58 359 L79.47 358.04 L83.35 356.41 L87.24 356.16 L91.13 355.52 L95.01 354.3 L98.9 354.41 L102.79 353.92 L106.67 354.73 L110.56 356.29 L114.45 356.92 L118.34 357.49 L122.22 359.84 L126.11 360.92 L130 361.53 L133.88 361.36 L137.77 360.85 L141.66 360.69 L145.54 359.92 L149.43 358.29 L153.32 355.52 L157.21 352.63 L161.09 351.18 L164.98 349.31 L168.87 348.75 L172.75 347.48 L176.64 346.06 L180.53 344 L184.41 341.87 L188.3 340.53 L192.19 339.26 L196.07 338.63 L199.96 338.96 L203.85 339.84 L207.74 340.19 L211.62 338.99 L215.51 338.53 L219.4 337.65 L223.28 336.86 L227.17 336.75 L231.06 336.43 L234.94 336.03 L238.83 336.84 L242.72 336.5 L246.61 337.02 L250.49 338.07 L254.38 338.45 L258.27 338.43 L262.15 336.06 L266.04 334.87 L269.93 333.39 L273.81 332.64 L277.7 331.67 L281.59 333.51 L285.48 335.64 L289.36 337.46 L293.25 337.6 L297.14 338.21 L301.02 339.59 L304.91 338.99 L308.8 339.28 L312.69 338.78 L316.57 338.19 L320.46 338.24 L324.35 338.49 L328.23 338.51 L332.12 339.02 L336.01 338.56 L339.89 338.82 L343.78 337.89 L347.67 337.26 L351.56 336.73 L355.44 335.75 L359.33 335.78 L363.22 337.4 L367.1 338.24 L370.99 337.76 L374.88 336.41 L378.76 335.05 L382.65 334.52 L386.54 333.02 L390.42 331.73 L394.31 331.28 L398.2 330.3 L402.09 325.65 L405.97 323.46 L409.86 322.13 L413.75 319.21 L417.63 316.35 L421.52 316.95 L425.41 318.56 L429.29 318.92 L433.18 320.06 L437.07 320.97 L440.96 322.52 L444.84 324.54 L448.73 326.37 L452.62 329.25 L456.5 332.37 L460.39 333.76 L464.28 336.07 L468.16 337.12 L472.05 338.11 L475.94 339.52 L479.83 340.03 L483.71 337.52 L487.6 335.11 L491.49 333.76 L495.37 332.3 L499.26 332.26 L503.15 333.74 L507.03 333.15 L510.92 332.7 L514.81 332.64 L518.7 333.82 L522.58 334.08 L526.47 334.15 L530.36 331.91 L534.24 329.51 L538.13 328.22 L542.02 326.2 L545.9 325.12 L549.79 323.43 L553.68 324.12 L557.57 325.25 L561.45 324.96 L565.34 326.19 L569.23 326.84 L573.11 328.31 L577 330.68 L580.89 333.8 L584.77 335.7 L588.66 338.26 L592.55 339.41 L596.44 338.23 L600.32 337.12 L604.21 337.03 L608.1 337.27 L611.98 337.9 L615.87 337.67 L619.76 338.4 L623.64 338.25 L627.53 338.23 L631.42 338.7 L635.31 337.81 L639.19 336.39 L643.08 335.13 L646.97 334.12 L650.85 332.4 L654.74 333.09 L658.63 332.43 L662.51 333.56 L666.4 335.94 L670.29 338.6 L674.18 339.82 L678.06 340.65 L681.95 340.35 L685.84 338.55 L689.72 337.91 L693.61 337.91 L697.5 337.33 L701.38 335.08 L705.27 334.12 L709.16 332.7 L713.05 332.82 L716.93 331.98 L720.82 331.89 L724.71 331.45 L728.59 332.08 L732.48 333.81 L736.37 335.04 L740.25 336.41 L744.14 335.96 L748.03 334.78 L751.92 334.94 L755.8 332.21 L759.69 328.08 L763.58 325.99 L767.46 325.12 L771.35 325.22 L775.24 320.41 L779.12 318.01 L783.01 316.18 L786.9 317.93 L790.79 320.43 L794.67 324.98 L798.56 327.98 L802.45 331.21 L806.33 334.73 L810.22 334.37 L814.11 336.52 L818 337.77 L821.88 339.53 L825.77 340.03 L829.66 341.44 L833.54 337.87 L837.43 333.41 L841.32 330.6 L845.2 328.04 L849.09 327.19 L852.98 323.76 L856.87 320.66 L860.75 318.51 L864.64 316.88 L868.53 314.31 L872.41 312.4 L876.3 313.44 L880.19 313.42 L884.07 315.66 L887.96 317.5 L891.85 319.81 L895.74 320.84 L899.62 322.2 L903.51 325.3 L907.4 328.24 L911.28 329.26 L915.17 328.22 L919.06 329.1 L922.94 330.12 L926.83 331.78 L930.72 333.51 L934.61 334.07 L938.49 335.72 L942.38 336.19 L946.27 337.22 L950.15 341.91 L954.04 346.85 L957.93 350.98 L961.81 352.27 L965.7 353.08 L969.59 355.52 L973.48 354.9 L977.36 355.12 L981.25 354.79 L985.14 356.33 L989.02 358.5 L992.91 360.73 L996.8 362.86 L1000.68 364.87 L1004.57 365.56 L1008.46 364.53 L1012.35 363.25 L1016.23 361.23 L1020.12 358.13 L1024.01 355.84 L1027.89 352.31 L1031.78 350.82 L1035.67 349.61 L1039.55 348.89 L1043.44 348.29 L1047.33 348.48 L1051.22 347.25 L1055.1 347.76 L1058.99 347.19 L1062.88 347.28 L1066.76 346.93 L1070.65 346.38 L1074.54 346.48 L1078.42 347.78 L1082.31 349.05 L1086.2 350.55 L1090.09 350.93 L1093.97 346.35 L1097.86 345.52 L1101.75 343.4 L1105.63 339.74 L1109.52 334.68 L1113.41 326.42 L1117.29 321.83 L1121.18 316.22 L1125.07 314.69 L1128.96 313.28 L1132.84 313.8 L1136.73 313.57 L1140.62 308.86 L1144.5 304.24 L1148.39 303.12 L1152.28 303.42 L1156.16 302.45 L1160.05 304.55 L1163.94 305.32 L1167.83 307.57 L1171.71 307.41 L1175.6 307.22 L1179.49 308.19 L1183.37 308.98 L1187.26 308.4 L1191.15 308.55 L1195.03 309.43 L1198.92 311.04 L1202.81 312.64" stroke="#2a5bd7" stroke-width="1.1" fill="none" stroke-linejoin="round"/>
<path d="M9.5 357.25 L13.39 357.59 L17.27 358.03 L21.16 358.37 L25.05 358.72 L28.93 358.89 L32.82 359.14 L36.71 359.64 L40.6 359.9 L44.48 360.23 L48.37 360.68 L52.26 361.23 L56.14 361.62 L60.03 361.98 L63.92 362.18 L67.8 361.98 L71.69 361.73 L75.58 361.18 L79.47 360.55 L83.35 359.72 L87.24 359.01 L91.13 358.31 L95.01 357.51 L98.9 356.89 L102.79 356.3 L106.67 355.98 L110.56 356.04 L114.45 356.22 L118.34 356.47 L122.22 357.15 L126.11 357.9 L130 358.63 L133.88 359.17 L137.77 359.51 L141.66 359.74 L145.54 359.78 L149.43 359.48 L153.32 358.69 L157.21 357.48 L161.09 356.22 L164.98 354.84 L168.87 353.62 L172.75 352.39 L176.64 351.12 L180.53 349.7 L184.41 348.13 L188.3 346.61 L192.19 345.14 L196.07 343.84 L199.96 342.86 L203.85 342.26 L207.74 341.84 L211.62 341.27 L215.51 340.73 L219.4 340.11 L223.28 339.46 L227.17 338.92 L231.06 338.42 L234.94 337.94 L238.83 337.72 L242.72 337.48 L246.61 337.38 L250.49 337.52 L254.38 337.71 L258.27 337.85 L262.15 337.49 L266.04 336.97 L269.93 336.25 L273.81 335.53 L277.7 334.76 L281.59 334.51 L285.48 334.74 L289.36 335.28 L293.25 335.74 L297.14 336.24 L301.02 336.91 L304.91 337.33 L308.8 337.72 L312.69 337.93 L316.57 337.98 L320.46 338.03 L324.35 338.12 L328.23 338.2 L332.12 338.37 L336.01 338.4 L339.89 338.49 L343.78 338.37 L347.67 338.15 L351.56 337.86 L355.44 337.44 L359.33 337.11 L363.22 337.17 L367.1 337.38 L370.99 337.46 L374.88 337.25 L378.76 336.81 L382.65 336.35 L386.54 335.68 L390.42 334.89 L394.31 334.17 L398.2 333.4 L402.09 331.85 L405.97 330.17 L409.86 328.56 L413.75 326.69 L417.63 324.62 L421.52 323.09 L425.41 322.18 L429.29 321.53 L433.18 321.23 L437.07 321.18 L440.96 321.45 L444.84 322.07 L448.73 322.93 L452.62 324.19 L456.5 325.83 L460.39 327.42 L464.28 329.15 L468.16 330.74 L472.05 332.22 L475.94 333.68 L479.83 334.95 L483.71 335.46 L487.6 335.39 L491.49 335.06 L495.37 334.51 L499.26 334.06 L503.15 334 L507.03 333.83 L510.92 333.6 L514.81 333.41 L518.7 333.49 L522.58 333.61 L526.47 333.72 L530.36 333.36 L534.24 332.59 L538.13 331.71 L542.02 330.61 L545.9 329.51 L549.79 328.3 L553.68 327.46 L557.57 327.02 L561.45 326.61 L565.34 326.52 L569.23 326.59 L573.11 326.93 L577 327.68 L580.89 328.9 L584.77 330.26 L588.66 331.86 L592.55 333.37 L596.44 334.35 L600.32 334.9 L604.21 335.33 L608.1 335.72 L611.98 336.15 L615.87 336.46 L619.76 336.85 L623.64 337.13 L627.53 337.35 L631.42 337.62 L635.31 337.66 L639.19 337.4 L643.08 336.95 L646.97 336.38 L650.85 335.59 L654.74 335.09 L658.63 334.56 L662.51 334.36 L666.4 334.67 L670.29 335.46 L674.18 336.33 L678.06 337.2 L681.95 337.83 L685.84 337.97 L689.72 337.96 L693.61 337.95 L697.5 337.83 L701.38 337.28 L705.27 336.65 L709.16 335.86 L713.05 335.25 L716.93 334.59 L720.82 334.05 L724.71 333.53 L728.59 333.24 L732.48 333.36 L736.37 333.69 L740.25 334.24 L744.14 334.58 L748.03 334.62 L751.92 334.69 L755.8 334.19 L759.69 332.97 L763.58 331.57 L767.46 330.28 L771.35 329.27 L775.24 327.5 L779.12 325.6 L783.01 323.71 L786.9 322.56 L790.79 322.13 L794.67 322.7 L798.56 323.76 L802.45 325.25 L806.33 327.14 L810.22 328.59 L814.11 330.17 L818 331.69 L821.88 333.26 L825.77 334.61 L829.66 335.98 L833.54 336.36 L837.43 335.77 L841.32 334.74 L845.2 333.4 L849.09 332.15 L852.98 330.48 L856.87 328.51 L860.75 326.51 L864.64 324.59 L868.53 322.53 L872.41 320.5 L876.3 319.09 L880.19 317.96 L884.07 317.5 L887.96 317.5 L891.85 317.96 L895.74 318.54 L899.62 319.27 L903.51 320.48 L907.4 322.03 L911.28 323.47 L915.17 324.42 L919.06 325.36 L922.94 326.31 L926.83 327.4 L930.72 328.63 L934.61 329.71 L938.49 330.92 L942.38 331.97 L946.27 333.02 L950.15 334.8 L954.04 337.21 L957.93 339.96 L961.81 342.42 L965.7 344.55 L969.59 346.75 L973.48 348.38 L977.36 349.73 L981.25 350.74 L985.14 351.86 L989.02 353.19 L992.91 354.69 L996.8 356.33 L1000.68 358.04 L1004.57 359.54 L1008.46 360.54 L1012.35 361.08 L1016.23 361.11 L1020.12 360.52 L1024.01 359.58 L1027.89 358.12 L1031.78 356.66 L1035.67 355.25 L1039.55 353.98 L1043.44 352.84 L1047.33 351.97 L1051.22 351.03 L1055.1 350.37 L1058.99 349.74 L1062.88 349.24 L1066.76 348.78 L1070.65 348.3 L1074.54 347.94 L1078.42 347.9 L1082.31 348.13 L1086.2 348.62 L1090.09 349.08 L1093.97 348.53 L1097.86 347.93 L1101.75 347.02 L1105.63 345.57 L1109.52 343.39 L1113.41 340 L1117.29 336.36 L1121.18 332.33 L1125.07 328.81 L1128.96 325.7 L1132.84 323.32 L1136.73 321.37 L1140.62 318.87 L1144.5 315.94 L1148.39 313.38 L1152.28 311.39 L1156.16 309.6 L1160.05 308.59 L1163.94 307.94 L1167.83 307.86 L1171.71 307.77 L1175.6 307.66 L1179.49 307.77 L1183.37 308.01 L1187.26 308.09 L1191.15 308.18 L1195.03 308.43 L1198.92 308.95 L1202.81 309.69" stroke="#e8680c" stroke-width="1.1" fill="none" stroke-linejoin="round"/>
</g>
<text x="14.2" y="310.6" font-size="9.8" fill="#b2b5be" stroke="#b2b5be" stroke-width="0.3" textLength="146.2" lengthAdjust="spacingAndGlyphs">MACD (12, 26, close, 9, EMA, EMA)</text>
<text x="166.7" y="310.6" font-size="9.8" fill="#f7525f" stroke="#f7525f" stroke-width="0.3" textLength="47.7" lengthAdjust="spacingAndGlyphs">−0.1128152</text>
<text x="221" y="310.6" font-size="9.8" fill="#2962ff" stroke="#2962ff" stroke-width="0.3" textLength="42.7" lengthAdjust="spacingAndGlyphs">1.2846314</text>
<text x="270" y="310.6" font-size="9.8" fill="#ff6d00" stroke="#ff6d00" stroke-width="0.3" textLength="42.5" lengthAdjust="spacingAndGlyphs">1.3974467</text>
<g clip-path="url(#ca)">
<path d="M9.5 422.7V432.58M32.82 422.7V434.58M40.6 422.7V434.75M56.14 422.7V436.59M67.8 422.7V435.82M71.69 422.7V434.02M75.58 422.7V432.48M79.47 422.7V430.85M83.35 422.7V429.12M87.24 422.7V428.29M91.13 422.7V427.77M95.01 422.7V427.18M98.9 422.7V427.05M141.66 422.7V434.63M145.54 422.7V433.21M149.43 422.7V431.68M153.32 422.7V429.52M157.21 422.7V426.88M161.09 422.7V424.02M164.98 422.7V421.52M168.87 422.7V420.01M172.75 422.7V419.42M176.64 422.7V419.27M180.53 422.7V418.81M184.41 422.7V417.51M188.3 422.7V415.82M192.19 422.7V414.17M196.07 422.7V413.03M199.96 422.7V412.85M215.51 422.7V415.23M219.4 422.7V414.61M223.28 422.7V413.15M227.17 422.7V411.64M231.06 422.7V410.79M234.94 422.7V410.5M262.15 422.7V414.67M266.04 422.7V413.39M269.93 422.7V411.78M273.81 422.7V410.26M277.7 422.7V408.67M304.91 422.7V419.7M308.8 422.7V418.81M312.69 422.7V418.38M316.57 422.7V418.06M320.46 422.7V417.25M324.35 422.7V416.92M343.78 422.7V417.18M347.67 422.7V416.61M351.56 422.7V415.86M355.44 422.7V415.37M359.33 422.7V414.65M378.76 422.7V416.28M382.65 422.7V415.14M386.54 422.7V413.05M390.42 422.7V411.31M394.31 422.7V410.37M398.2 422.7V409.52M402.09 422.7V406.28M405.97 422.7V402.83M409.86 422.7V400.42M413.75 422.7V397.24M417.63 422.7V394.05M421.52 422.7V393.85M483.71 422.7V419.81M487.6 422.7V417.28M491.49 422.7V415.18M495.37 422.7V413.15M499.26 422.7V411.12M526.47 422.7V416.03M530.36 422.7V415.89M534.24 422.7V414.34M538.13 422.7V411.85M542.02 422.7V408.99M545.9 422.7V405.87M549.79 422.7V403.6M553.68 422.7V402.79M600.32 422.7V419.88M604.21 422.7V418.7M608.1 422.7V417.23M611.98 422.7V416.28M631.42 422.7V417.9M639.19 422.7V417.28M643.08 422.7V416.44M646.97 422.7V414.98M650.85 422.7V413.37M654.74 422.7V412.64M658.63 422.7V412.6M685.84 422.7V421.56M689.72 422.7V419.39M693.61 422.7V417.04M697.5 422.7V415.07M701.38 422.7V412.9M705.27 422.7V411.81M709.16 422.7V411.06M713.05 422.7V410.21M716.93 422.7V409.61M751.92 422.7V415.27M755.8 422.7V413.47M759.69 422.7V409.7M763.58 422.7V406.46M767.46 422.7V403.8M771.35 422.7V401.96M775.24 422.7V399.68M779.12 422.7V397.94M783.01 422.7V396.07M786.9 422.7V395.83M790.79 422.7V395.74M814.11 422.7V418.49M833.54 422.7V420.24M837.43 422.7V417.31M841.32 422.7V413.71M845.2 422.7V409.51M849.09 422.7V405.46M852.98 422.7V402.28M856.87 422.7V399.82M860.75 422.7V398.47M864.64 422.7V397.29M868.53 422.7V395.86M872.41 422.7V393.9M915.17 422.7V411.56M922.94 422.7V411.1M926.83 422.7V410.85M973.48 422.7V439.49M977.36 422.7V437.98M981.25 422.7V437.39M989.02 422.7V437.32M1012.35 422.7V444.18M1016.23 422.7V441.93M1020.12 422.7V438.02M1024.01 422.7V434.23M1027.89 422.7V429.81M1031.78 422.7V426.12M1035.67 422.7V424.1M1039.55 422.7V422.74M1043.44 422.7V422.02M1055.1 422.7V421.91M1062.88 422.7V421.88M1066.76 422.7V421.43M1070.65 422.7V420.84M1074.54 422.7V420.43M1078.42 422.7V420.15M1093.97 422.7V424.29M1097.86 422.7V422.19M1101.75 422.7V420.12M1105.63 422.7V416.03M1109.52 422.7V410.23M1113.41 422.7V404.5M1117.29 422.7V398.49M1121.18 422.7V391.63M1125.07 422.7V386.6M1128.96 422.7V384.13M1144.5 422.7V387.27M1148.39 422.7V385.07M1152.28 422.7V383.12M1156.16 422.7V380.48M1187.26 422.7V390.05M1191.15 422.7V389.36" stroke="#178f2a" stroke-width="1" fill="none"/>
<path d="M13.39 422.7V432.89M17.27 422.7V433.51M21.16 422.7V434.22M25.05 422.7V434.6M28.93 422.7V434.69M36.71 422.7V434.76M44.48 422.7V434.81M48.37 422.7V435.54M52.26 422.7V436.69M60.03 422.7V436.65M63.92 422.7V436.99M102.79 422.7V427.24M106.67 422.7V427.52M110.56 422.7V428.33M114.45 422.7V429.74M118.34 422.7V430.94M122.22 422.7V432.62M126.11 422.7V434.53M130 422.7V435.2M133.88 422.7V435.37M137.77 422.7V435.44M203.85 422.7V413.82M207.74 422.7V414.95M211.62 422.7V415.29M238.83 422.7V410.71M242.72 422.7V411.4M246.61 422.7V411.89M250.49 422.7V413.13M254.38 422.7V414.46M258.27 422.7V415.18M281.59 422.7V409.29M285.48 422.7V411.99M289.36 422.7V414.48M293.25 422.7V416.32M297.14 422.7V418.27M301.02 422.7V419.85M328.23 422.7V416.98M332.12 422.7V417.21M336.01 422.7V417.39M339.89 422.7V417.49M363.22 422.7V414.97M367.1 422.7V416.04M370.99 422.7V416.59M374.88 422.7V416.73M425.41 422.7V395.6M429.29 422.7V396.42M433.18 422.7V398.32M437.07 422.7V401.29M440.96 422.7V403.48M444.84 422.7V404.97M448.73 422.7V406.31M452.62 422.7V408.7M456.5 422.7V411.47M460.39 422.7V414.36M464.28 422.7V416.49M468.16 422.7V418.75M472.05 422.7V419.8M475.94 422.7V420.17M479.83 422.7V420.66M503.15 422.7V411.58M507.03 422.7V413.44M510.92 422.7V414.24M514.81 422.7V414.79M518.7 422.7V415.94M522.58 422.7V416.1M557.57 422.7V403.54M561.45 422.7V403.99M565.34 422.7V405.18M569.23 422.7V406.66M573.11 422.7V408.28M577 422.7V408.86M580.89 422.7V411.43M584.77 422.7V413.81M588.66 422.7V417.14M592.55 422.7V419.91M596.44 422.7V420.9M615.87 422.7V416.42M619.76 422.7V416.88M623.64 422.7V417.59M627.53 422.7V418.02M635.31 422.7V417.93M662.51 422.7V413.66M666.4 422.7V415.11M670.29 422.7V417.9M674.18 422.7V420.21M678.06 422.7V422.35M681.95 422.7V422.85M720.82 422.7V410.05M724.71 422.7V410.99M728.59 422.7V411.36M732.48 422.7V412.44M736.37 422.7V413.34M740.25 422.7V414.77M744.14 422.7V415.69M748.03 422.7V416.09M794.67 422.7V399.2M798.56 422.7V405.13M802.45 422.7V410.47M806.33 422.7V415.38M810.22 422.7V418.53M818 422.7V418.59M821.88 422.7V419.04M825.77 422.7V419.38M829.66 422.7V420.26M876.3 422.7V395.05M880.19 422.7V395.52M884.07 422.7V396.74M887.96 422.7V398.3M891.85 422.7V401.27M895.74 422.7V403M899.62 422.7V404.72M903.51 422.7V407.51M907.4 422.7V409.95M911.28 422.7V411.66M919.06 422.7V411.69M930.72 422.7V411.09M934.61 422.7V412.87M938.49 422.7V415.34M942.38 422.7V416.88M946.27 422.7V418.19M950.15 422.7V421.23M954.04 422.7V426.53M957.93 422.7V430.96M961.81 422.7V434.97M965.7 422.7V438.2M969.59 422.7V440.34M985.14 422.7V437.57M992.91 422.7V437.97M996.8 422.7V440.44M1000.68 422.7V443.35M1004.57 422.7V445.02M1008.46 422.7V445.39M1047.33 422.7V422.22M1051.22 422.7V422.51M1058.99 422.7V422.15M1082.31 422.7V421.38M1086.2 422.7V422.95M1090.09 422.7V424.82M1132.84 422.7V385.38M1136.73 422.7V388.07M1140.62 422.7V388.78M1160.05 422.7V380.95M1163.94 422.7V384.12M1167.83 422.7V386.92M1171.71 422.7V388.96M1175.6 422.7V389.42M1179.49 422.7V389.8M1183.37 422.7V390.33M1195.03 422.7V390.47M1198.92 422.7V391.59M1202.81 422.7V392.87" stroke="#a5342f" stroke-width="1" fill="none"/>
</g>
<text x="14" y="388.4" font-size="9.8" fill="#b2b5be" stroke="#b2b5be" stroke-width="0.3" textLength="11.8" lengthAdjust="spacingAndGlyphs">AO</text>
<text x="31.9" y="388.4" font-size="9.8" fill="#a8302f" stroke="#a8302f" stroke-width="0.3" textLength="42.1" lengthAdjust="spacingAndGlyphs">3.1257141</text>
<path d="M8 200.5H1272M8 294.5H1272M8 372.5H1272M8 451.5H1272M1207.5 21V472" stroke="#2a2e39" stroke-width="1"/>
<text x="1215.5" y="71.05" font-size="10.3" fill="#b2b5be" stroke="#b2b5be" stroke-width="0.3" textLength="48.5" lengthAdjust="spacingAndGlyphs">32.0000000</text>
<text x="1215.5" y="95.6" font-size="10.3" fill="#b2b5be" stroke="#b2b5be" stroke-width="0.3" textLength="48.5" lengthAdjust="spacingAndGlyphs">28.0000000</text>
<text x="1215.5" y="120.15" font-size="10.3" fill="#b2b5be" stroke="#b2b5be" stroke-width="0.3" textLength="48.5" lengthAdjust="spacingAndGlyphs">24.0000000</text>
<text x="1215.5" y="144.7" font-size="10.3" fill="#b2b5be" stroke="#b2b5be" stroke-width="0.3" textLength="48.5" lengthAdjust="spacingAndGlyphs">20.0000000</text>
<text x="1215.5" y="169.25" font-size="10.3" fill="#b2b5be" stroke="#b2b5be" stroke-width="0.3" textLength="48.5" lengthAdjust="spacingAndGlyphs">16.0000000</text>
<text x="1215.5" y="193.8" font-size="10.3" fill="#b2b5be" stroke="#b2b5be" stroke-width="0.3" textLength="48.5" lengthAdjust="spacingAndGlyphs">12.0000000</text>
<g clip-path="url(#cp)">
<rect x="1208" y="14.3" width="62" height="39.2" fill="#f9bf2c"/>
<text x="1216.5" y="24" font-size="10.3" fill="#131722" stroke="#131722" stroke-width="0.3" textLength="47" lengthAdjust="spacingAndGlyphs">35.6581964</text>
<text x="1216.5" y="37" font-size="10.3" fill="#131722" stroke="#131722" stroke-width="0.3" textLength="47" lengthAdjust="spacingAndGlyphs">34.4283165</text>
<text x="1216.5" y="50.9" font-size="10.3" fill="#131722" stroke="#131722" stroke-width="0.3" textLength="47" lengthAdjust="spacingAndGlyphs">33.3745871</text>
<rect x="1208" y="53.4" width="62" height="13.1" fill="#ef5350"/>
<text x="1216.5" y="63.6" font-size="10.3" fill="#fff" stroke="#fff" stroke-width="0.3" textLength="47" lengthAdjust="spacingAndGlyphs">33.2597859</text>
<rect x="1208" y="80.2" width="62" height="12.9" fill="#f5e03b"/>
<text x="1216.5" y="89.9" font-size="10.3" fill="#131722" stroke="#131722" stroke-width="0.3" textLength="47" lengthAdjust="spacingAndGlyphs">28.9483951</text>
<rect x="1208" y="102.6" width="62" height="13.3" fill="#f5e03b"/>
<text x="1216.5" y="112.6" font-size="10.3" fill="#131722" stroke="#131722" stroke-width="0.3" textLength="47" lengthAdjust="spacingAndGlyphs">25.2277741</text>
</g>
<rect x="1229.2" y="26.2" width="21.8" height="13.6" rx="2.5" fill="#000"/>
<text x="1240.2" y="36.7" font-size="10.3" fill="#a3a6af" stroke="#a3a6af" stroke-width="0.3" text-anchor="middle" textLength="15.5" lengthAdjust="spacingAndGlyphs">USD</text>
<g clip-path="url(#cpr)">
<text x="1216" y="215.62" font-size="10.3" fill="#b2b5be" stroke="#b2b5be" stroke-width="0.3" textLength="23.5" lengthAdjust="spacingAndGlyphs">80.00</text>
<text x="1216" y="242.47" font-size="10.3" fill="#b2b5be" stroke="#b2b5be" stroke-width="0.3" textLength="23.5" lengthAdjust="spacingAndGlyphs">60.00</text>
<text x="1216" y="269.33" font-size="10.3" fill="#b2b5be" stroke="#b2b5be" stroke-width="0.3" textLength="23.5" lengthAdjust="spacingAndGlyphs">40.00</text>
<text x="1216" y="296.18" font-size="10.3" fill="#b2b5be" stroke="#b2b5be" stroke-width="0.3" textLength="23.5" lengthAdjust="spacingAndGlyphs">20.00</text>
</g>
<text x="1215.5" y="323.6" font-size="10.3" fill="#b2b5be" stroke="#b2b5be" stroke-width="0.3" textLength="44" lengthAdjust="spacingAndGlyphs">1.0000000</text>
<text x="1215.5" y="349.6" font-size="10.3" fill="#b2b5be" stroke="#b2b5be" stroke-width="0.3" textLength="44" lengthAdjust="spacingAndGlyphs">0.0000000</text>
<text x="1215.5" y="388.6" font-size="10.3" fill="#b2b5be" stroke="#b2b5be" stroke-width="0.3" textLength="44" lengthAdjust="spacingAndGlyphs">4.0000000</text>
<text x="1215.5" y="426.1" font-size="10.3" fill="#b2b5be" stroke="#b2b5be" stroke-width="0.3" textLength="44" lengthAdjust="spacingAndGlyphs">0.0000000</text>
<text x="98.9" y="465.6" font-size="9.8" fill="#b2b5be" stroke="#b2b5be" stroke-width="0.3" text-anchor="middle">19</text>
<text x="168.8" y="465.6" font-size="9.8" fill="#b2b5be" stroke="#b2b5be" stroke-width="0.3" text-anchor="middle">22</text>
<text x="262.2" y="465.6" font-size="9.8" fill="#b2b5be" stroke="#b2b5be" stroke-width="0.3" text-anchor="middle">26</text>
<text x="331.9" y="465.6" font-size="9.8" fill="#b2b5be" stroke="#b2b5be" stroke-width="0.3" text-anchor="middle">29</text>
<text x="402.3" y="465.6" font-size="9.8" fill="#b2b5be" stroke="#b2b5be" stroke-width="0.3" text-anchor="middle" font-weight="bold">Aug</text>
<text x="472.1" y="465.6" font-size="9.8" fill="#b2b5be" stroke="#b2b5be" stroke-width="0.3" text-anchor="middle">4</text>
<text x="588.6" y="465.6" font-size="9.8" fill="#b2b5be" stroke="#b2b5be" stroke-width="0.3" text-anchor="middle">9</text>
<text x="658.9" y="465.6" font-size="9.8" fill="#b2b5be" stroke="#b2b5be" stroke-width="0.3" text-anchor="middle">12</text>
<text x="752" y="465.6" font-size="9.8" fill="#b2b5be" stroke="#b2b5be" stroke-width="0.3" text-anchor="middle">16</text>
<text x="821.9" y="465.6" font-size="9.8" fill="#b2b5be" stroke="#b2b5be" stroke-width="0.3" text-anchor="middle">19</text>
<text x="915.1" y="465.6" font-size="9.8" fill="#b2b5be" stroke="#b2b5be" stroke-width="0.3" text-anchor="middle">23</text>
<text x="985.2" y="465.6" font-size="9.8" fill="#b2b5be" stroke="#b2b5be" stroke-width="0.3" text-anchor="middle">26</text>
<text x="1054.5" y="465.6" font-size="9.8" fill="#b2b5be" stroke="#b2b5be" stroke-width="0.3" text-anchor="middle">29</text>
<text x="1125.3" y="465.6" font-size="9.8" fill="#b2b5be" stroke="#b2b5be" stroke-width="0.3" text-anchor="middle" font-weight="bold">Sep</text>
<text x="1195.1" y="465.6" font-size="9.8" fill="#b2b5be" stroke="#b2b5be" stroke-width="0.3" text-anchor="middle">4</text>
<defs><filter id="thin" x="-5%" y="-5%" width="110%" height="110%"><feMorphology operator="erode" radius="0.55"/></filter><filter id="thin2" x="-5%" y="-5%" width="110%" height="110%"><feMorphology operator="erode" radius="0.3 1.1"/></filter></defs>
<rect x="935" y="403" width="345" height="97" fill="#fff" fill-opacity="0.57"/>
<text x="1032.9" y="457.5" font-size="64" fill="#141414" textLength="179.2" lengthAdjust="spacingAndGlyphs" filter="url(#thin)" font-family="'DejaVu Sans', sans-serif">الكريبتو</text>
<circle cx="1023.2" cy="454" r="2.6" fill="#141414"/>
<text x="937.9" y="454.6" font-size="85" fill="#c08c1a" textLength="78.9" lengthAdjust="spacingAndGlyphs" filter="url(#thin2)" font-family="'DejaVu Sans', sans-serif">نت</text>
<text x="944" y="492.5" font-size="20" fill="#25569c" stroke="#25569c" stroke-width="0.4" textLength="294" lengthAdjust="spacing" font-family="'DejaVu Sans', sans-serif">أخبار العملات الرقمية</text>
<circle cx="1235" cy="435" r="22.5" fill="#a9893c"/>
<text x="1229.4" y="445.3" font-size="25" fill="#969696" stroke="#969696" stroke-width="0.3" font-weight="bold" textLength="14.2" lengthAdjust="spacingAndGlyphs">B</text>
<path d="M1234.6 423.6v4M1234.6 444.5v4.3" stroke="#969696" stroke-width="2.6" stroke-linecap="round"/>
<path d="M1213 469.6L1236.8 455.2L1253.6 465.6L1272.8 447.7M1258.4 447.7H1272.8V461.6" stroke="#1f6db3" stroke-width="3" fill="none"/>
<text x="1215.5" y="426.1" font-size="10.3" fill="#f4ecd0" stroke="#f4ecd0" stroke-width="0.3" textLength="44" lengthAdjust="spacingAndGlyphs" fill-opacity="0.8">0.0000000</text>
<path d="M8 482.1H14.1V489.8H10.8V484.7H8Z" fill="#d1d4dc"/>
<circle cx="16.4" cy="483.5" r="1.6" fill="#d1d4dc"/>
<path d="M19.6 482.1H23.3L20.4 489.8H17.1Z" fill="#d1d4dc"/>
<text x="26.3" y="490" font-size="11.5" fill="#d1d4dc" stroke="#d1d4dc" stroke-width="0.45" textLength="56" lengthAdjust="spacingAndGlyphs">TradingView</text>
</svg>
</body></html>
